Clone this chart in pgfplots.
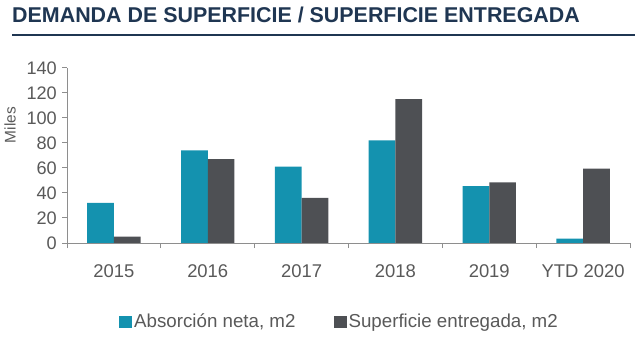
\documentclass[border=0pt]{standalone}
\usepackage{pgfplots}
\pgfplotsset{compat=1.18}
\usepackage{fontspec}
\setmainfont{Liberation Sans}
\definecolor{teal1}{HTML}{1492AF}
\definecolor{gray1}{HTML}{4E5054}
\definecolor{axisgray}{HTML}{8E8E8E}
\definecolor{labelgray}{HTML}{595959}
\definecolor{navy}{HTML}{1F3652}
\begin{document}
\begin{tikzpicture}
\useasboundingbox (0,0) rectangle (640bp,338bp);
\node[anchor=base west, inner sep=0pt, font=\fontsize{21.5}{24}\selectfont\bfseries, text=navy] at (12bp,315bp) {DEMANDA DE SUPERFICIE / SUPERFICIE ENTREGADA};
\draw[navy, line width=2.5bp] (12bp,303bp) -- (635bp,303bp);
\node[rotate=90, font=\fontsize{15.5}{18}\selectfont, text=labelgray] at (10bp,213bp) {Miles};
\begin{axis}[
  at={(67bp,95bp)}, anchor=south west, scale only axis,
  width=563bp, height=175bp,
  xmin=-0.5, xmax=5.5, ymin=0, ymax=140,
  axis x line=bottom, axis y line=left,
  axis line style={-, axisgray, line width=1bp},
  xtick={0,1,2,3,4,5},
  xticklabels={2015,2016,2017,2018,2019,YTD 2020},
  minor xtick={-0.5,0.5,1.5,2.5,3.5,4.5,5.5},
  major x tick style={draw=none},
  minor x tick style={axisgray, line width=1bp},
  minor tick length=5bp,
  ytick={0,20,40,60,80,100,120,140},
  major y tick style={axisgray, line width=1bp},
  major tick length=5bp,
  tick align=outside,
  xticklabel style={anchor=base, inner sep=0pt, yshift=-29bp, font=\fontsize{18.5}{21}\selectfont, text=labelgray},
  yticklabel style={anchor=east, inner sep=0pt, xshift=-5bp, font=\fontsize{18.2}{21}\selectfont, text=labelgray, /pgf/number format/assume math mode=true},
  ybar, bar width=0.285,
  legend columns=2,
  legend style={draw=none, fill=none, at={(0.484,-0.45)}, anchor=center,
    font=\fontsize{18.8}{21}\selectfont, text=labelgray,
    /tikz/every even column/.append style={column sep=36bp}},
  legend image code/.code={\fill[#1] (0bp,-6.5bp) rectangle (13bp,6bp);},
]
\addplot[fill=teal1, draw=none, bar shift=-0.1425] coordinates {(0,32) (1,74) (2,61) (3,82) (4,45.5) (5,3.5)};
\addplot[fill=gray1, draw=none, bar shift=0.1425] coordinates {(0,5) (1,67) (2,36) (3,115) (4,48.5) (5,59.5)};
\legend{{Absorción neta, m2}, {Superficie entregada, m2}}
\end{axis}
\end{tikzpicture}
\end{document}
